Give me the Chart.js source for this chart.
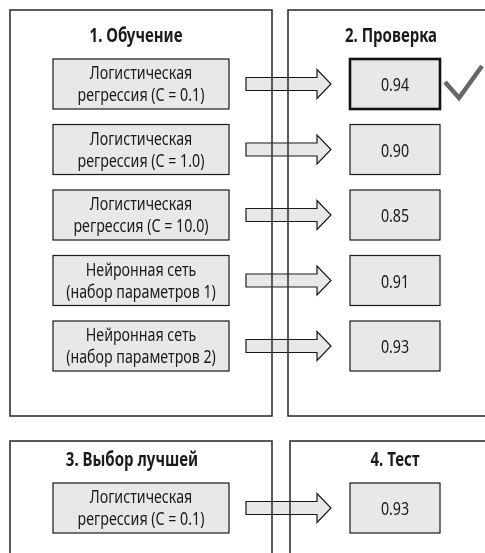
<!DOCTYPE html>
<html lang="ru">
<head>
  <meta charset="UTF-8">
  <title>Обучение, проверка, выбор, тест</title>
  <script src="https://cdn.jsdelivr.net/npm/chart.js"></script>
  <style>
    body { margin: 0; background: #fff; }
    canvas { display: block; }
  </style>
</head>
<body>
  <canvas id="flow" width="485" height="553"></canvas>
  <script>
    // data
    const stageTitles = ['1. Обучение', '2. Проверка', '3. Выбор лучшей', '4. Тест'];
    const modelNames = [
      ['Логистическая', 'регрессия (C = 0.1)'],
      ['Логистическая', 'регрессия (C = 1.0)'],
      ['Логистическая', 'регрессия (C = 10.0)'],
      ['Нейронная сеть', '(набор параметров 1)'],
      ['Нейронная сеть', '(набор параметров 2)']
    ];
    const valScores = [0.94, 0.90, 0.85, 0.91, 0.93];
    const testScore = 0.93;

    const bestIdx = valScores.indexOf(Math.max(...valScores));

    // layout in page units (the hidden scales map them to pixels)
    const ROW_TOP = 59, ROW_STEP = 65.5, BOX_H = 50;
    const LEFT_BOX = [53, 229], RIGHT_BOX = [350, 440];
    const ARROW = { x0: 246, neck: 317, tip: 331, body: 6.5, head: 14.5 };
    const SQUEEZE = 0.79;

    const FILL = '#e8e8e8', INK = '#1a1a1a';

    function drawText(ctx, txt, x, y, font) {
      ctx.save();
      ctx.font = font;
      ctx.translate(x, y);
      ctx.scale(SQUEEZE, 1);
      ctx.textAlign = 'center';
      ctx.textBaseline = 'alphabetic';
      ctx.fillStyle = INK;
      ctx.fillText(txt, 0, 0);
      ctx.restore();
    }

    const flowPlugin = {
      id: 'flow',
      afterDraw(chart) {
        const ctx = chart.ctx;
        const sx = v => chart.scales.x.getPixelForValue(v);
        const sy = v => chart.scales.y.getPixelForValue(v);

        function rect(x0, y0, x1, y1, lw, color, fill) {
          const X = sx(x0), Y = sy(y0), W = sx(x1) - X, H = sy(y1) - Y;
          if (fill) { ctx.fillStyle = fill; ctx.fillRect(X, Y, W, H); }
          ctx.lineWidth = lw;
          ctx.strokeStyle = color;
          ctx.strokeRect(X, Y, W, H);
        }

        function arrow(cy) {
          const a = ARROW;
          ctx.beginPath();
          ctx.moveTo(sx(a.x0), sy(cy - a.body));
          ctx.lineTo(sx(a.neck), sy(cy - a.body));
          ctx.lineTo(sx(a.neck), sy(cy - a.head));
          ctx.lineTo(sx(a.tip), sy(cy));
          ctx.lineTo(sx(a.neck), sy(cy + a.head));
          ctx.lineTo(sx(a.neck), sy(cy + a.body));
          ctx.lineTo(sx(a.x0), sy(cy + a.body));
          ctx.closePath();
          ctx.fillStyle = FILL;
          ctx.fill();
          ctx.lineWidth = 1.2;
          ctx.strokeStyle = INK;
          ctx.stroke();
        }

        function modelBox(lines, top) {
          rect(LEFT_BOX[0], top, LEFT_BOX[1], top + BOX_H, 1.2, INK, FILL);
          const cx = sx((LEFT_BOX[0] + LEFT_BOX[1]) / 2), cy = sy(top + BOX_H / 2);
          drawText(ctx, lines[0], cx, cy - 5, '18px "Noto Sans"');
          drawText(ctx, lines[1], cx, cy + 17, '18px "Noto Sans"');
        }

        function scoreBox(v, top, strong) {
          rect(RIGHT_BOX[0], top, RIGHT_BOX[1], top + BOX_H, strong ? 2.6 : 1.2, strong ? '#111' : INK, FILL);
          const cx = sx((RIGHT_BOX[0] + RIGHT_BOX[1]) / 2), cy = sy(top + BOX_H / 2);
          drawText(ctx, v.toFixed(2), cx, cy + 7, '18px "Noto Sans"');
        }

        ctx.save();
        ctx.fillStyle = '#fff';
        ctx.fillRect(0, 0, chart.width, chart.height);

        // arrows go under the panel frames
        valScores.forEach((v, i) => arrow(ROW_TOP + i * ROW_STEP + BOX_H / 2));
        arrow(483 + BOX_H / 2);

        // panel frames
        rect(10, 10, 272, 416, 1.6, '#333');
        rect(288, 10, 500, 416, 1.6, '#333');
        rect(10, 441, 272, 570, 1.6, '#333');
        rect(290, 441, 500, 570, 1.6, '#333');

        // titles
        const tf = 'bold 19px "Noto Sans"';
        drawText(ctx, stageTitles[0], sx(136), sy(42), tf);
        drawText(ctx, stageTitles[1], sx(391), sy(42), tf);
        drawText(ctx, stageTitles[2], sx(132), sy(466), tf);
        drawText(ctx, stageTitles[3], sx(395), sy(466), tf);

        modelNames.forEach((m, i) => modelBox(m, ROW_TOP + i * ROW_STEP));
        valScores.forEach((v, i) => scoreBox(v, ROW_TOP + i * ROW_STEP, i === bestIdx));

        modelBox(modelNames[bestIdx], 483);
        scoreBox(testScore, 483, false);

        // check mark next to the best validation score
        const my = ROW_TOP + bestIdx * ROW_STEP;
        ctx.beginPath();
        ctx.moveTo(sx(445), sy(my + 23));
        ctx.lineTo(sx(459), sy(my + 39));
        ctx.lineTo(sx(482), sy(my + 7));
        ctx.lineWidth = 4.5;
        ctx.lineCap = 'butt';
        ctx.lineJoin = 'miter';
        ctx.strokeStyle = '#666';
        ctx.stroke();
        ctx.restore();
      }
    };

    new Chart(document.getElementById('flow'), {
      type: 'scatter',
      data: { datasets: [{ data: [] }] },
      options: {
        responsive: false,
        animation: false,
        layout: { padding: 0 },
        plugins: { legend: { display: false }, tooltip: { enabled: false } },
        scales: {
          x: { type: 'linear', min: 0, max: 485, display: false },
          y: { type: 'linear', min: 0, max: 553, reverse: true, display: false }
        }
      },
      plugins: [flowPlugin]
    });
  </script>
</body>
</html>
